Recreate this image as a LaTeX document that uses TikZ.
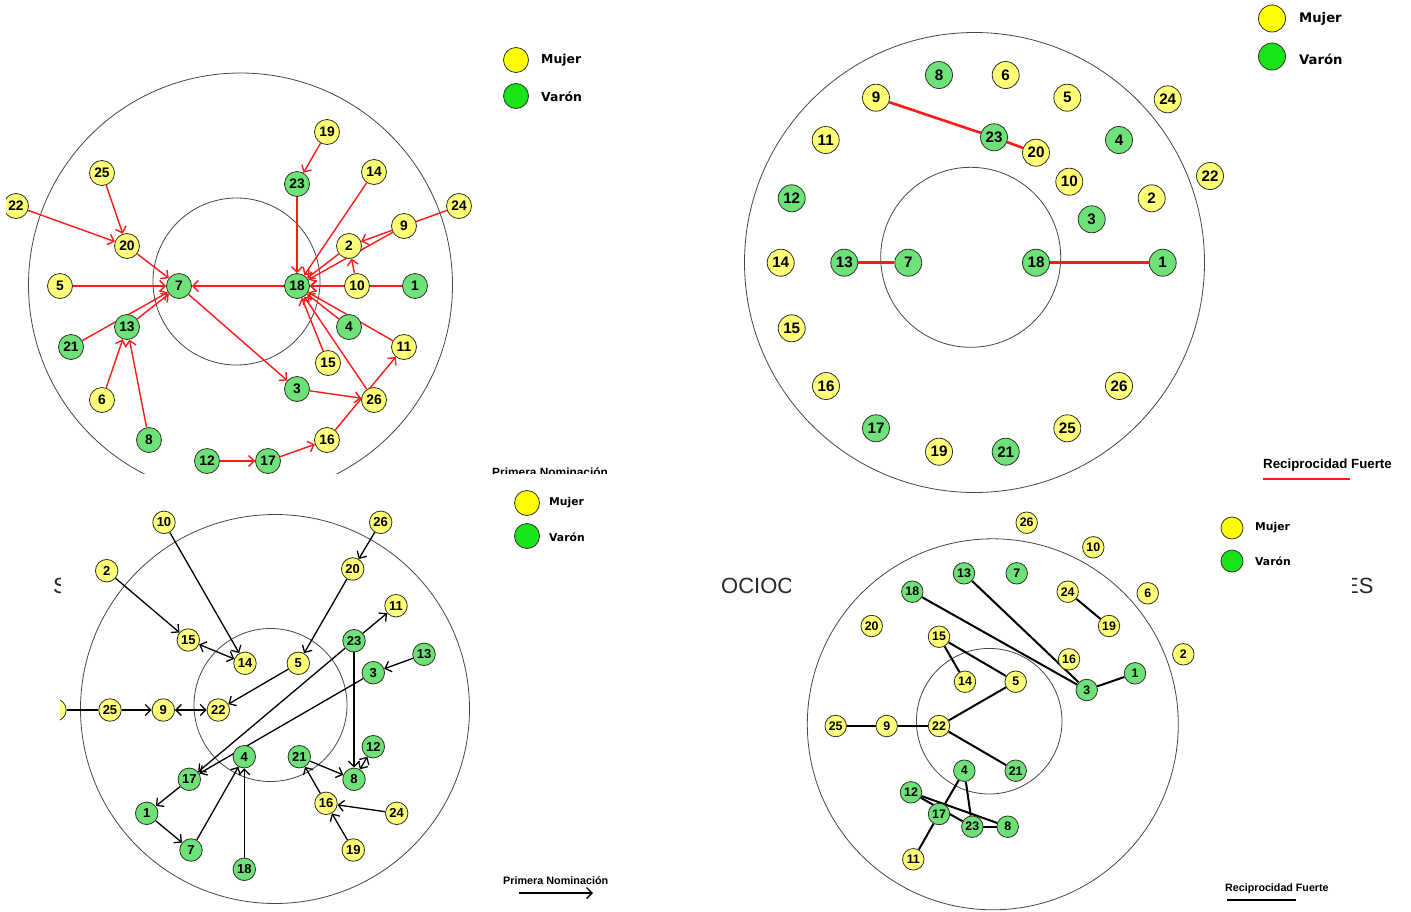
\documentclass[tikz,border=0pt]{standalone}
\usepackage{fontspec}
\setmainfont{Liberation Sans}
\setsansfont{Liberation Sans}
\newfontfamily\legfont{DejaVu Sans}
\usetikzlibrary{arrows.meta}

\definecolor{nodeY}{RGB}{255,255,120}
\definecolor{nodeG}{RGB}{110,226,120}
\definecolor{legY}{RGB}{255,255,0}
\definecolor{legG}{RGB}{25,228,25}
\definecolor{rim}{RGB}{45,50,35}
\definecolor{orbitc}{RGB}{70,70,70}
\definecolor{tie}{RGB}{255,25,25}
\definecolor{titlec}{RGB}{40,40,40}

\pgfdeclarelayer{paper}
\pgfdeclarelayer{back}
\pgfdeclarelayer{links}
\pgfsetlayers{paper,back,links,main}

\tikzset{
  nb/.tip={Straight Barb[length=5.5pt,width=11pt]},
  orbit/.style={draw=orbitc, line width=0.8pt},
  pnode/.style={circle, draw=rim, line width=0.8pt, inner sep=0pt, text=black},
  pa/.style={pnode, minimum size=25pt, font=\bfseries\fontsize{13.8}{13.8}\selectfont},
  pb/.style={pnode, minimum size=27pt, font=\bfseries\fontsize{15.2}{15.2}\selectfont},
  pc/.style={pnode, minimum size=22.5pt, font=\bfseries\fontsize{13}{13}\selectfont},
  pd/.style={pnode, minimum size=21.5pt, font=\bfseries\fontsize{12.4}{12.4}\selectfont},
  ya/.style={pa, fill=nodeY}, ga/.style={pa, fill=nodeG},
  yb/.style={pb, fill=nodeY}, gb/.style={pb, fill=nodeG},
  yc/.style={pc, fill=nodeY}, gc/.style={pc, fill=nodeG},
  yd/.style={pd, fill=nodeY}, gd/.style={pd, fill=nodeG},
  legdot/.style={circle, draw=rim, line width=0.8pt, inner sep=0pt},
  legtxt/.style={anchor=west, inner sep=0pt, font=\legfont\bfseries},
  captxt/.style={anchor=base west, inner sep=0pt, font=\bfseries},
  nomred/.style={draw=tie, line width=1.4pt, -nb},
  nomblk/.style={draw=black, line width=1.3pt, -nb},
  nomboth/.style={draw=black, line width=1.3pt, nb-nb},
  recred/.style={draw=tie, line width=2.6pt},
  recblk/.style={draw=black, line width=2pt},
  frag/.style={anchor=base west, inner sep=0pt, text=titlec, font=\fontsize{22}{22}\selectfont}
}

\begin{document}
\begin{tikzpicture}[x=1pt,y=-1pt]
\useasboundingbox (0,0) rectangle (1411,911);
\begin{pgfonlayer}{paper}
  \fill[white] (0,0) rectangle (1411,911);
\end{pgfonlayer}

% ---- title fragments showing between the panels
\begin{scope}
  \clip (40,560) rectangle (60.5,610);
  \node[frag] (fragS) at (53,593) {S};
\end{scope}
\begin{scope}
  \clip (700,560) rectangle (790,610);
  \node[frag] (fragOC) at (721,593) {OCIOC};
\end{scope}
\begin{scope}
  \clip (1352,560) rectangle (1411,610);
  \node[frag] (fragES) at (1344,593) {ES};
\end{scope}

% =========================== Panel A: first nomination (red)
\begin{scope}
\clip (6,0) rectangle (700,473);
\begin{pgfonlayer}{back}
  \begin{scope}
    \clip (6,0) rectangle (700,473);
    \draw[orbit] (240.5,285) circle[radius=212pt];
    \draw[orbit] (236.5,281.5) circle[radius=83.5pt];
  \end{scope}
\end{pgfonlayer}
\node[ya] (a19) at (327,132) {19};
\node[ga] (a23) at (297,184) {23};
\node[ya] (a14) at (374,172) {14};
\node[ya] (a25) at (102,173) {25};
\node[ya] (a22) at (16,206) {22};
\node[ya] (a24) at (459,206) {24};
\node[ya] (a9) at (404,226) {9};
\node[ya] (a20) at (127,246) {20};
\node[ya] (a2) at (349,246) {2};
\node[ya] (a5) at (60,286) {5};
\node[ga] (a7) at (179,286) {7};
\node[ga] (a18) at (297,286) {18};
\node[ya] (a10) at (357,286) {10};
\node[ga] (a1) at (415,286) {1};
\node[ga] (a13) at (127,327) {13};
\node[ga] (a4) at (349,327) {4};
\node[ga] (a21) at (71,347) {21};
\node[ya] (a11) at (404,347) {11};
\node[ya] (a15) at (328,363) {15};
\node[ya] (a6) at (102,400) {6};
\node[ga] (a3) at (297,389) {3};
\node[ya] (a26) at (374,400) {26};
\node[ga] (a8) at (149,440) {8};
\node[ya] (a16) at (327,440) {16};
\node[ga] (a12) at (207,461) {12};
\node[ga] (a17) at (268,461) {17};
\node[captxt, font=\bfseries\fontsize{11.9}{11.9}\selectfont] (acap) at (492,476.5) {Primera Nominación};
\end{scope}
\begin{pgfonlayer}{links}
  \begin{scope}
    \clip (6,0) rectangle (700,473);
    \draw[nomred] (a19) -- (a23);
    \draw[nomred] (a23) -- (a18);
    \draw[nomred] (a14) -- (a18);
    \draw[nomred] (a24) -- (a2);
    \draw[nomred] (a9) -- (a18);
    \draw[nomred] (a10) -- (a2);
    \draw[nomred] (a2) -- (a18);
    \draw[nomred] (a1) -- (a18);
    \draw[nomred] (a10) -- (a18);
    \draw[nomred] (a18) -- (a7);
    \draw[nomred] (a4) -- (a18);
    \draw[nomred] (a11) -- (a18);
    \draw[nomred] (a15) -- (a18);
    \draw[nomred] (a26) -- (a18);
    \draw[nomred] (a3) -- (a26);
    \draw[nomred] (a16) -- (a11);
    \draw[nomred] (a12) -- (a17);
    \draw[nomred] (a17) -- (a16);
    \draw[nomred] (a7) -- (a3);
    \draw[nomred] (a25) -- (a20);
    \draw[nomred] (a22) -- (a20);
    \draw[nomred] (a20) -- (a7);
    \draw[nomred] (a5) -- (a7);
    \draw[nomred] (a13) -- (a7);
    \draw[nomred] (a21) -- (a7);
    \draw[nomred] (a6) -- (a13);
    \draw[nomred] (a8) -- (a13);
  \end{scope}
\end{pgfonlayer}
% legend A
\node[legdot, fill=legY, minimum size=25pt] (alegY) at (516,60) {};
\node[legdot, fill=legG, minimum size=25pt] (alegG) at (516,96) {};
\node[legtxt, font=\legfont\bfseries\fontsize{12.4}{12.4}\selectfont] (alegYt) at (541,60) {Mujer};
\node[legtxt, font=\legfont\bfseries\fontsize{12.4}{12.4}\selectfont] (alegGt) at (541,97) {Varón};

% =========================== Panel B: strong reciprocity (red)
\begin{pgfonlayer}{back}
  \draw[orbit] (974.5,262.5) circle[radius=230pt];
  \draw[orbit] (970.7,257.3) circle[radius=90pt];
\end{pgfonlayer}
\node[gb] (b8) at (939,75) {8};
\node[yb] (b6) at (1005.7,75) {6};
\node[yb] (b9) at (876,97.7) {9};
\node[yb] (b5) at (1067.3,97.7) {5};
\node[yb] (b24) at (1167.7,99.3) {24};
\node[yb] (b11) at (825.7,140) {11};
\node[gb] (b23) at (994,137.3) {23};
\node[gb] (b4) at (1119,140) {4};
\node[yb] (b20) at (1036,152.7) {20};
\node[yb] (b22) at (1210,176) {22};
\node[yb] (b10) at (1069.3,181.7) {10};
\node[gb] (b12) at (791.7,198.3) {12};
\node[yb] (b2) at (1151.7,198.3) {2};
\node[gb] (b3) at (1091.7,219.3) {3};
\node[yb] (b14) at (780.7,262.7) {14};
\node[gb] (b13) at (844.3,262.7) {13};
\node[gb] (b7) at (908.3,262.7) {7};
\node[gb] (b18) at (1036,262.7) {18};
\node[gb] (b1) at (1162.7,262.7) {1};
\node[yb] (b15) at (791.7,328.3) {15};
\node[yb] (b16) at (826,386) {16};
\node[yb] (b26) at (1119,386) {26};
\node[gb] (b17) at (876,428.3) {17};
\node[yb] (b25) at (1067.3,428.3) {25};
\node[yb] (b19) at (939,451.7) {19};
\node[gb] (b21) at (1005.7,451.7) {21};
\begin{pgfonlayer}{links}
  \draw[recred] (b9) -- (b23);
  \draw[recred] (b23) -- (b20);
  \draw[recred] (b13) -- (b7);
  \draw[recred] (b18) -- (b1);
\end{pgfonlayer}
% legend B
\node[legdot, fill=legY, minimum size=27pt] (blegY) at (1272,18.5) {};
\node[legdot, fill=legG, minimum size=27pt] (blegG) at (1272,56.5) {};
\node[legtxt, font=\legfont\bfseries\fontsize{13.2}{13.2}\selectfont] (blegYt) at (1299,19) {Mujer};
\node[legtxt, font=\legfont\bfseries\fontsize{13.2}{13.2}\selectfont] (blegGt) at (1299,59) {Varón};
\node[captxt, font=\bfseries\fontsize{13.3}{13.3}\selectfont] (bcap) at (1263,468.8) {Reciprocidad Fuerte};
\coordinate (bkeyL) at (1263,479);
\coordinate (bkeyR) at (1350,479);
\draw[draw=tie, line width=2pt] (bkeyL) -- (bkeyR);

% =========================== Panel C: first nomination (black)
\begin{scope}
\clip (60,478) rectangle (700,911);
\begin{pgfonlayer}{back}
  \draw[orbit] (275,709) circle[radius=194.5pt];
  \draw[orbit] (270.5,705) circle[radius=76.5pt];
\end{pgfonlayer}
\node[yc] (c10) at (164,522.3) {10};
\node[yc] (c26) at (380.7,522.3) {26};
\node[yc] (c2) at (106.7,570.7) {2};
\node[yc] (c20) at (352.7,569) {20};
\node[yc] (c11) at (396,605.7) {11};
\node[yc] (c15) at (188.3,640) {15};
\node[gc] (c23) at (354,640.7) {23};
\node[yc] (c14) at (245,663.3) {14};
\node[yc] (c5) at (298.3,663.3) {5};
\node[gc] (c13) at (424,654.3) {13};
\node[gc] (c3) at (373.3,672.7) {3};
\node[yc] (c6) at (55,710) {6};
\node[yc] (c25) at (110,710) {25};
\node[yc] (c9) at (163.3,710) {9};
\node[yc] (c22) at (218.3,710) {22};
\node[gc] (c12) at (373.3,746.7) {12};
\node[gc] (c4) at (244.3,756.7) {4};
\node[gc] (c21) at (299.3,756.7) {21};
\node[gc] (c17) at (189.3,779.3) {17};
\node[gc] (c8) at (354,779.3) {8};
\node[yc] (c16) at (326,803.3) {16};
\node[yc] (c24) at (396.7,813.3) {24};
\node[gc] (c1) at (146.7,813.3) {1};
\node[gc] (c7) at (191,850) {7};
\node[yc] (c19) at (353.3,850) {19};
\node[gc] (c18) at (244.3,869.3) {18};
\end{scope}
\begin{pgfonlayer}{links}
  \begin{scope}
    \clip (60,478) rectangle (700,911);
    \draw[draw=black, line width=1.3pt] (c6) -- (c25);
    \draw[nomblk] (c25) -- (c9);
    \draw[nomboth] (c9) -- (c22);
    \draw[nomblk] (c2) -- (c15);
    \draw[nomblk] (c10) -- (c14);
    \draw[nomboth] (c15) -- (c14);
    \draw[nomblk] (c26) -- (c20);
    \draw[nomblk] (c20) -- (c5);
    \draw[nomblk] (c5) -- (c22);
    \draw[nomblk] (c23) -- (c11);
    \draw[nomblk] (c23) -- (c17);
    \draw[nomblk] (c23) -- (c8);
    \draw[nomblk] (c13) -- (c3);
    \draw[nomblk] (c3) -- (c17);
    \draw[nomboth] (c12) -- (c8);
    \draw[nomblk] (c21) -- (c8);
    \draw[nomblk] (c16) -- (c21);
    \draw[nomblk] (c24) -- (c16);
    \draw[nomblk] (c19) -- (c16);
    \draw[nomblk] (c7) -- (c4);
    \draw[nomblk] (c18) -- (c4);
    \draw[nomblk] (c17) -- (c1);
    \draw[nomblk] (c1) -- (c7);
  \end{scope}
\end{pgfonlayer}
% legend C
\node[legdot, fill=legY, minimum size=25pt] (clegY) at (527,503) {};
\node[legdot, fill=legG, minimum size=25pt] (clegG) at (527,536) {};
\node[legtxt, font=\legfont\bfseries\fontsize{10.8}{10.8}\selectfont] (clegYt) at (549,503) {Mujer};
\node[legtxt, font=\legfont\bfseries\fontsize{10.8}{10.8}\selectfont] (clegGt) at (549,537) {Varón};
\node[captxt, font=\bfseries\fontsize{10.8}{10.8}\selectfont] (ccap) at (503,884) {Primera Nominación};
\coordinate (ckeyL) at (519,893);
\coordinate (ckeyR) at (593,893);
\draw[nomblk] (ckeyL) -- (ckeyR);

% =========================== Panel D: strong reciprocity (black)
\begin{pgfonlayer}{back}
  \draw[orbit] (992.8,724.3) circle[radius=185.5pt];
  \draw[orbit] (989.2,721.2) circle[radius=72.8pt];
\end{pgfonlayer}
\node[yd] (d26) at (1026.7,522.7) {26};
\node[yd] (d10) at (1093.3,547.3) {10};
\node[gd] (d13) at (964,573.3) {13};
\node[gd] (d7) at (1016.7,573.3) {7};
\node[gd] (d18) at (912.3,591.7) {18};
\node[yd] (d24) at (1067.7,591.7) {24};
\node[yd] (d6) at (1147.7,593.3) {6};
\node[yd] (d20) at (871.7,626) {20};
\node[yd] (d19) at (1109,626) {19};
\node[yd] (d15) at (939,636.7) {15};
\node[yd] (d2) at (1183.3,654.3) {2};
\node[yd] (d16) at (1069,659.3) {16};
\node[gd] (d1) at (1135,673.3) {1};
\node[yd] (d14) at (965,681.7) {14};
\node[yd] (d5) at (1015.7,681.7) {5};
\node[gd] (d3) at (1086.7,690) {3};
\node[yd] (d25) at (835.7,726) {25};
\node[yd] (d9) at (886.7,726) {9};
\node[yd] (d22) at (939,726) {22};
\node[gd] (d4) at (964.3,770.7) {4};
\node[gd] (d21) at (1015.7,770.7) {21};
\node[gd] (d12) at (911,792.3) {12};
\node[gd] (d17) at (939,814) {17};
\node[gd] (d23) at (972.3,826.7) {23};
\node[gd] (d8) at (1007.7,826.7) {8};
\node[yd] (d11) at (913.3,859.3) {11};
\begin{pgfonlayer}{links}
  \draw[recblk] (d18) -- (d3);
  \draw[recblk] (d13) -- (d3);
  \draw[recblk] (d24) -- (d19);
  \draw[recblk] (d3) -- (d1);
  \draw[recblk] (d15) -- (d14);
  \draw[recblk] (d15) -- (d5);
  \draw[recblk] (d5) -- (d22);
  \draw[recblk] (d25) -- (d9);
  \draw[recblk] (d9) -- (d22);
  \draw[recblk] (d22) -- (d21);
  \draw[recblk] (d4) -- (d17);
  \draw[recblk] (d4) -- (d23);
  \draw[recblk] (d12) -- (d8);
  \draw[recblk] (d12) -- (d23);
  \draw[recblk] (d23) -- (d8);
  \draw[recblk] (d17) -- (d11);
\end{pgfonlayer}
% legend D
\node[legdot, fill=legY, minimum size=22pt] (dlegY) at (1232,528) {};
\node[legdot, fill=legG, minimum size=22pt] (dlegG) at (1232,561) {};
\node[legtxt, font=\legfont\bfseries\fontsize{10.8}{10.8}\selectfont] (dlegYt) at (1255,528) {Mujer};
\node[legtxt, font=\legfont\bfseries\fontsize{10.8}{10.8}\selectfont] (dlegGt) at (1255,561) {Varón};
\node[captxt, font=\bfseries\fontsize{10.7}{10.7}\selectfont] (dcap) at (1225,891) {Reciprocidad Fuerte};
\coordinate (dkeyL) at (1227,900);
\coordinate (dkeyR) at (1296,900);
\draw[draw=black, line width=1.5pt] (dkeyL) -- (dkeyR);
\end{tikzpicture}
\end{document}
